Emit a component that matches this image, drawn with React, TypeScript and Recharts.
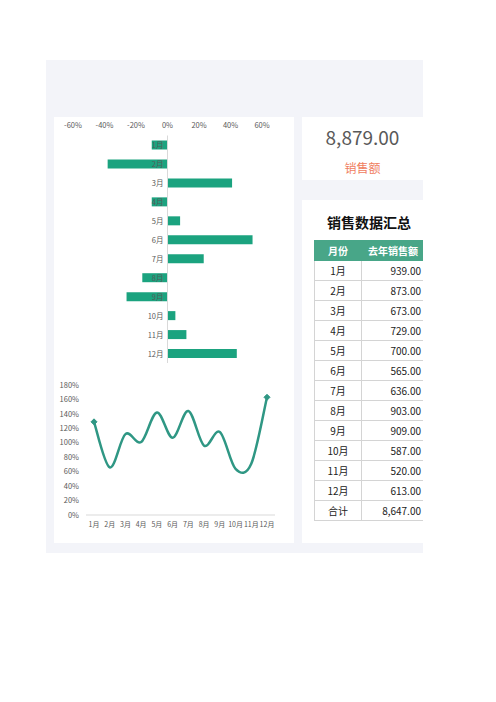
import React from "react";
import {
  BarChart,
  Bar,
  XAxis,
  YAxis,
  LineChart,
  Line,
  LabelList,
  ReferenceLine,
} from "recharts";

const months = ["1月", "2月", "3月", "4月", "5月", "6月", "7月", "8月", "9月", "10月", "11月", "12月"];
const growth = [-0.1, -0.38, 0.41, -0.1, 0.08, 0.54, 0.23, -0.16, -0.26, 0.05, 0.12, 0.44];
const ratio = [1.29, 0.66, 1.12, 1.01, 1.42, 1.07, 1.44, 0.96, 1.15, 0.64, 0.71, 1.63];
const lastYearSales = [939, 873, 673, 729, 700, 565, 636, 903, 909, 587, 520, 613];
const growthTicks = [-0.6, -0.4, -0.2, 0, 0.2, 0.4, 0.6];
const ratioTicks = [0, 0.2, 0.4, 0.6, 0.8, 1, 1.2, 1.4, 1.6, 1.8];
const salesTotal = 8879;

const FONT = '"Noto Sans CJK SC", "Noto Sans", sans-serif';
const GREEN = "#1ba37f";
const LINE = "#2f9784";
const TEXT = "#595959";

const barData = months.map((m, i) => ({ month: m, growth: growth[i] }));
const lineData = months.map((m, i) => ({ month: m, ratio: ratio[i] }));

const pct = (v: number) => `${Math.round(v * 100)}%`;
const money = (v: number) =>
  v.toLocaleString("en-US", { minimumFractionDigits: 2, maximumFractionDigits: 2 });

// Excel-like smoothed line (Catmull-Rom through every point)
const smoothCurve = (context: any) => {
  let pts: [number, number][] = [];
  return {
    areaStart() {},
    areaEnd() {},
    lineStart() {
      pts = [];
    },
    point(x: number, y: number) {
      pts.push([+x, +y]);
    },
    lineEnd() {
      if (!pts.length) return;
      context.moveTo(pts[0][0], pts[0][1]);
      for (let i = 0; i < pts.length - 1; i++) {
        const p0 = pts[Math.max(i - 1, 0)];
        const p1 = pts[i];
        const p2 = pts[i + 1];
        const p3 = pts[Math.min(i + 2, pts.length - 1)];
        context.bezierCurveTo(
          p1[0] + (p2[0] - p0[0]) / 6,
          p1[1] + (p2[1] - p0[1]) / 6,
          p2[0] - (p3[0] - p1[0]) / 6,
          p2[1] - (p3[1] - p1[1]) / 6,
          p2[0],
          p2[1]
        );
      }
    },
  };
};

const MonthLabel = (props: any) => {
  const { x, y, width, height, index } = props;
  const v = growth[index];
  const zeroX = v < 0 ? Math.max(x, x + width) : Math.min(x, x + width);
  return (
    <text
      x={zeroX - 4}
      y={y + height / 2}
      dy={3}
      textAnchor="end"
      fontSize={7.5}
      fill={TEXT}
      fontFamily={FONT}
    >
      {months[index]}
    </text>
  );
};

const EndDot = (props: any) => {
  const { cx, cy, index } = props;
  if (index !== 0 && index !== ratio.length - 1) return null;
  const s = 3;
  return (
    <path
      key={index}
      d={`M${cx},${cy - s} L${cx + s},${cy} L${cx},${cy + s} L${cx - s},${cy} Z`}
      fill={LINE}
      stroke={LINE}
    />
  );
};

function GrowthChart() {
  return (
    <BarChart
      width={240}
      height={250}
      data={barData}
      layout="vertical"
      margin={{ top: 0, right: 32, left: 19, bottom: 4 }}
      barSize={9}
    >
      <XAxis
        type="number"
        orientation="top"
        domain={[-0.6, 0.6]}
        ticks={growthTicks}
        tickFormatter={pct}
        axisLine={false}
        tickLine={false}
        height={18.5}
        tick={{ fontSize: 7.5, fill: TEXT, fontFamily: FONT }}
      />
      <YAxis type="category" dataKey="month" hide />
      <ReferenceLine x={0} stroke="#d9d9d9" />
      <Bar dataKey="growth" fill={GREEN} isAnimationActive={false}>
        <LabelList dataKey="month" content={<MonthLabel />} />
      </Bar>
    </BarChart>
  );
}

function RatioChart() {
  return (
    <LineChart
      width={240}
      height={165}
      data={lineData}
      margin={{ top: 10, right: 19, left: 0, bottom: 5 }}
    >
      <XAxis
        dataKey="month"
        stroke="#d9d9d9"
        tickLine={false}
        height={20}
        interval={0}
        padding={{ left: 8, right: 8 }}
        tickSize={5}
        tickMargin={2}
        tick={{ fontSize: 7, fill: TEXT, fontFamily: FONT }}
      />
      <YAxis
        domain={[0, 1.8]}
        ticks={ratioTicks}
        tickFormatter={pct}
        axisLine={false}
        tickLine={false}
        width={32}
        tickSize={5}
        tickMargin={2}
        tick={{ fontSize: 7.5, fill: TEXT, fontFamily: FONT }}
      />
      <Line
        type={smoothCurve as any}
        dataKey="ratio"
        stroke={LINE}
        strokeWidth={2.5}
        dot={<EndDot />}
        activeDot={false}
        isAnimationActive={false}
      />
    </LineChart>
  );
}

const cell: React.CSSProperties = {
  border: "1px solid #d4d4d4",
  height: 19,
  padding: 0,
  fontSize: 10,
  color: "#222",
};

function SalesTable() {
  const total = lastYearSales.reduce((a, b) => a + b, 0);
  const rows = months.map((m, i) => [m, money(lastYearSales[i])]);
  rows.push(["合计", money(total)]);
  return (
    <table
      style={{
        position: "absolute",
        left: 12,
        top: 40,
        borderCollapse: "collapse",
        fontFamily: FONT,
        tableLayout: "fixed",
        width: 110,
      }}
    >
      <colgroup>
        <col style={{ width: 47 }} />
        <col style={{ width: 63 }} />
      </colgroup>
      <thead>
        <tr>
          {["月份", "去年销售额"].map((h, i) => (
            <th
              key={h}
              style={{
                ...cell,
                height: 19,
                background: "#48a688",
                color: "#fff",
                fontWeight: "bold",
                border: "1px solid #48a688",
                borderLeft: i === 1 ? "1px solid #fff" : "1px solid #48a688",
                textAlign: "center",
              }}
            >
              {h}
            </th>
          ))}
        </tr>
      </thead>
      <tbody>
        {rows.map(([m, v]) => (
          <tr key={m}>
            <td style={{ ...cell, textAlign: "center" }}>{m}</td>
            <td style={{ ...cell, textAlign: "right", paddingRight: 3 }}>{v}</td>
          </tr>
        ))}
      </tbody>
    </table>
  );
}

export default function App() {
  return (
    <div
      style={{
        position: "absolute",
        left: 0,
        top: 0,
        width: 496,
        height: 702,
        background: "#fff",
        fontFamily: FONT,
      }}
    >
      <div
        style={{
          position: "absolute",
          left: 46,
          top: 60,
          width: 377,
          height: 493,
          background: "#f3f4f9",
          overflow: "hidden",
        }}
      >
        <div
          style={{
            position: "absolute",
            left: 8,
            top: 57,
            width: 240,
            height: 426,
            background: "#fff",
          }}
        >
          <GrowthChart />
          <div style={{ position: "absolute", left: 0, top: 258 }}>
            <RatioChart />
          </div>
        </div>
        <div
          style={{
            position: "absolute",
            left: 256,
            top: 57,
            width: 130,
            height: 63,
            background: "#fff",
          }}
        >
          <div
            style={{
              position: "absolute",
              left: 0,
              width: 121,
              top: 6,
              textAlign: "center",
              fontSize: 19,
              color: TEXT,
            }}
          >
            {money(salesTotal)}
          </div>
          <div
            style={{
              position: "absolute",
              left: 0,
              width: 121,
              top: 42,
              textAlign: "center",
              fontSize: 12,
              color: "#f0805f",
            }}
          >
            销售额
          </div>
        </div>
        <div
          style={{
            position: "absolute",
            left: 256,
            top: 140,
            width: 130,
            height: 343,
            background: "#fff",
          }}
        >
          <div
            style={{
              position: "absolute",
              left: 12,
              width: 110,
              top: 12,
              textAlign: "center",
              fontSize: 14,
              fontWeight: "bold",
              color: "#111",
            }}
          >
            销售数据汇总
          </div>
          <SalesTable />
        </div>
      </div>
    </div>
  );
}
